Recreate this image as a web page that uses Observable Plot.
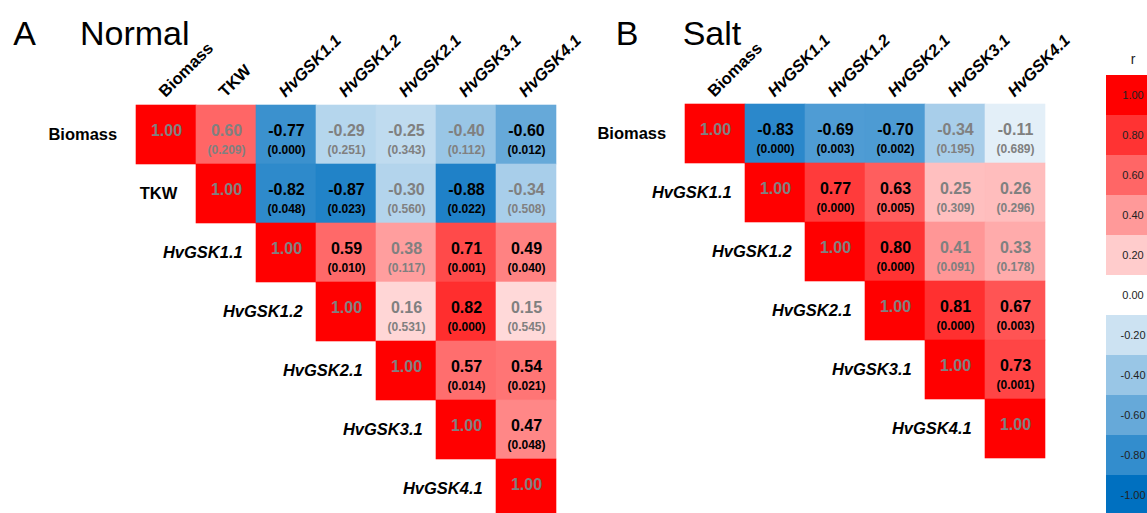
<!DOCTYPE html>
<html><head><meta charset="utf-8">
<script src="https://cdn.jsdelivr.net/npm/d3@7"></script>
<script src="https://cdn.jsdelivr.net/npm/@observablehq/plot@0.6"></script>
<style>
html,body{margin:0;padding:0;background:#fff;overflow:hidden;}
#root{position:relative;width:1147px;height:513px;font-family:"Liberation Sans",Arial,sans-serif;}
.title{position:absolute;top:16.2px;font-size:34px;line-height:34px;color:#000;white-space:nowrap;}
.panel{position:absolute;top:0;}
.panel svg{max-width:none !important;display:block;}
</style></head><body><div id="root"></div>
<script>
// ---- data ----
const traitNames = ["Biomass", "TKW"];

const normalVars = ["Biomass", "TKW", "HvGSK1.1", "HvGSK1.2", "HvGSK2.1", "HvGSK3.1", "HvGSK4.1"];
const normalR = [
  [1.00, 0.60, -0.77, -0.29, -0.25, -0.40, -0.60],
  [1.00, -0.82, -0.87, -0.30, -0.88, -0.34],
  [1.00, 0.59, 0.38, 0.71, 0.49],
  [1.00, 0.16, 0.82, 0.15],
  [1.00, 0.57, 0.54],
  [1.00, 0.47],
  [1.00]
];
const normalP = [
  [null, 0.209, 0.000, 0.251, 0.343, 0.112, 0.012],
  [null, 0.048, 0.023, 0.560, 0.022, 0.508],
  [null, 0.010, 0.117, 0.001, 0.040],
  [null, 0.531, 0.000, 0.545],
  [null, 0.014, 0.021],
  [null, 0.048],
  [null]
];

const saltVars = ["Biomass", "HvGSK1.1", "HvGSK1.2", "HvGSK2.1", "HvGSK3.1", "HvGSK4.1"];
const saltR = [
  [1.00, -0.83, -0.69, -0.70, -0.34, -0.11],
  [1.00, 0.77, 0.63, 0.25, 0.26],
  [1.00, 0.80, 0.41, 0.33],
  [1.00, 0.81, 0.67],
  [1.00, 0.73],
  [1.00]
];
const saltP = [
  [null, 0.000, 0.003, 0.002, 0.195, 0.689],
  [null, 0.000, 0.005, 0.309, 0.296],
  [null, 0.000, 0.091, 0.178],
  [null, 0.000, 0.003],
  [null, 0.001],
  [null]
];

const legendValues = [1.0, 0.8, 0.6, 0.4, 0.2, 0.0, -0.2, -0.4, -0.6, -0.8, -1.0];
const legendLabels = ["1.00", "0.80", "0.60", "0.40", "0.20", "0.00", "-0.20", "-0.40", "-0.60", "-0.80", "-1.00"];

// ---- styling ----
const FONT = "'Liberation Sans', Arial, sans-serif";
const colorScale = {type: "linear", domain: [-1, 0, 1], range: ["#0070C0", "#ffffff", "#ff0000"], interpolate: "rgb"};
const GRAY = "#808080";

function panel(vars, R, P, x0, x1, y0, rowH, width) {
  const cells = [];
  R.forEach((row, i) => row.forEach((r, k) => {
    const j = i + k;
    const p = P[i][k];
    cells.push({row: vars[i], col: vars[j], r, p, sig: p != null && p < 0.05});
  }));
  const cw = (x1 - x0) / vars.length;
  const traits = vars.filter(v => traitNames.includes(v));
  const genes = vars.filter(v => !traitNames.includes(v));
  const pc = cells.filter(d => d.p != null);
  const rText = {x: "col", y: "row", text: d => d.r.toFixed(2), fontSize: 16, fontWeight: "bold", dy: -4.3};
  const pText = {x: "col", y: "row", text: d => `(${d.p.toFixed(3)})`, fontSize: 12, fontWeight: "bold", dy: 15.5};
  const rowLab = {x: d => d, y: d => d, text: d => d, textAnchor: "end", fontSize: 16.5, fontWeight: "bold", fill: "#000"};
  const colLab = {x: d => d, text: d => d, frameAnchor: "top", rotate: -45, textAnchor: "start", lineAnchor: "bottom", dx: -1, dy: -6, fontSize: 16.5, fontWeight: "bold", fill: "#000"};
  return Plot.plot({
    width, height: 513,
    marginLeft: x0, marginRight: width - x1, marginTop: y0, marginBottom: 0,
    style: {fontFamily: FONT, background: "transparent", overflow: "hidden"},
    x: {domain: vars, range: [x0, x1], padding: 0, axis: null},
    y: {domain: vars, range: [y0, y0 + rowH * vars.length], padding: 0, axis: null},
    color: colorScale,
    marks: [
      Plot.cell(cells, {x: "col", y: "row", fill: "r", stroke: "r", strokeWidth: 0.6}),
      Plot.text(cells.filter(d => !d.sig), {...rText, fill: GRAY}),
      Plot.text(cells.filter(d => d.sig), {...rText, fill: "#000"}),
      Plot.text(pc.filter(d => !d.sig), {...pText, fill: GRAY}),
      Plot.text(pc.filter(d => d.sig), {...pText, fill: "#000"}),
      Plot.text(traits, {...rowLab, dx: -(cw / 2 + 19)}),
      Plot.text(genes, {...rowLab, dx: -(cw / 2 + 13.5), fontStyle: "italic"}),
      Plot.text(traits, colLab),
      Plot.text(genes, {...colLab, fontStyle: "italic"})
    ]
  });
}

function legend() {
  const items = legendValues.map((v, i) => ({value: v, label: legendLabels[i]}));
  const top = 69.3, h = 41;
  return Plot.plot({
    width: 57, height: 513,
    marginLeft: 16, marginRight: 0, marginTop: top, marginBottom: 0,
    style: {fontFamily: FONT, background: "transparent", overflow: "hidden"},
    y: {domain: legendLabels, range: [top, top + h * legendLabels.length], padding: 0, axis: null},
    color: colorScale,
    marks: [
      Plot.cell(items, {y: "label", fill: "value"}),
      Plot.text(items, {y: "label", text: "label", frameAnchor: "left", textAnchor: "middle", dx: 26.5, fontSize: 11, fill: "#222"}),
      Plot.text(["r"], {text: d => d, frameAnchor: "top-left", textAnchor: "middle", dx: 26.5, dy: -16, fontSize: 14, fill: "#222"})
    ]
  });
}

const root = document.getElementById("root");
function place(node, left, width) {
  const d = document.createElement("div");
  d.className = "panel";
  d.style.left = left + "px";
  d.style.width = width + "px";
  d.appendChild(node);
  root.appendChild(d);
}
function title(text, left) {
  const s = document.createElement("div");
  s.className = "title";
  s.style.left = left + "px";
  s.textContent = text;
  root.appendChild(s);
}

place(panel(normalVars, normalR, normalP, 133.8, 557.7, 103.5, 59.4, 610), 0, 610);
place(panel(saltVars, saltR, saltP, 113.3, 476.7, 103.3, 59.2, 520), 570, 520);
place(legend(), 1090, 57);
title("A", 13.3);
title("Normal", 80);
title("B", 615.8);
title("Salt", 682.7);
</script></body></html>
